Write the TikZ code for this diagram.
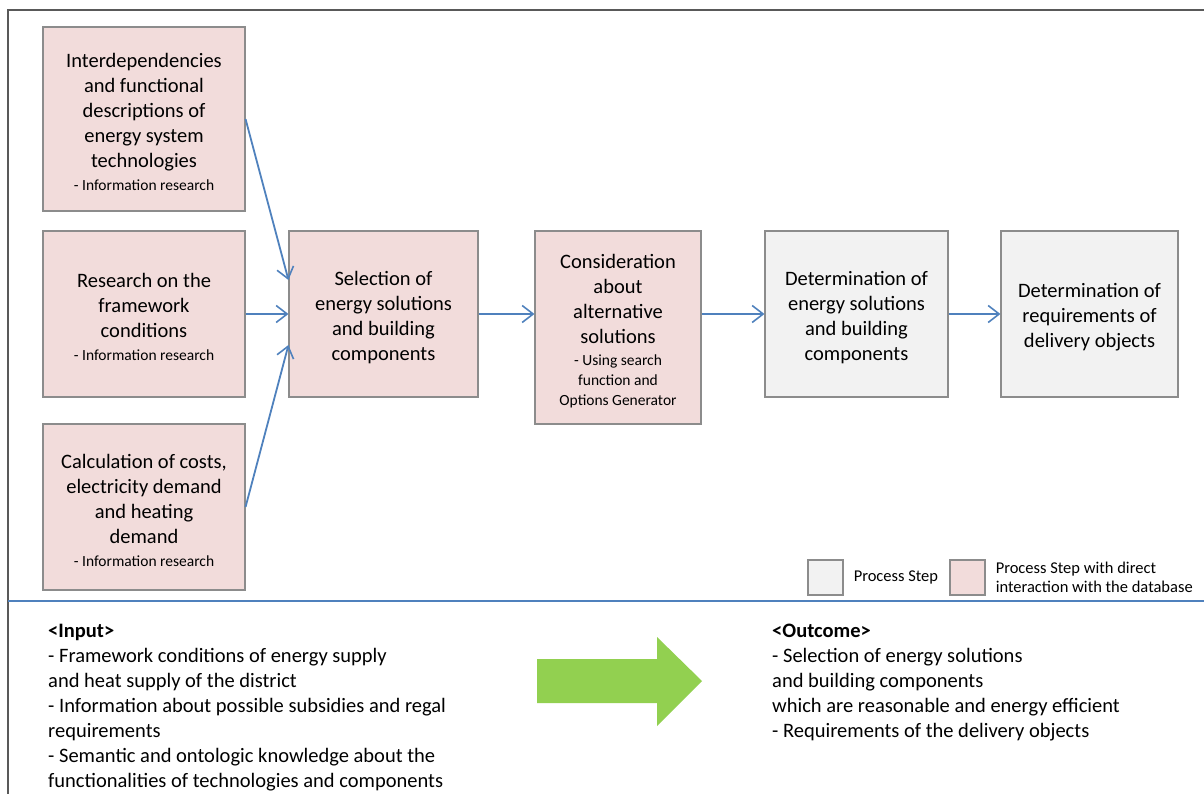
\documentclass[tikz,border=0pt]{standalone}
\usepackage{fontspec}
\setmainfont{Carlito}
\usetikzlibrary{arrows.meta,positioning}
\definecolor{dbpink}{HTML}{F2DCDB}
\definecolor{stepgray}{HTML}{F2F2F2}
\definecolor{boxline}{HTML}{8C8C8C}
\definecolor{flowblue}{HTML}{4F81BD}
\definecolor{framegray}{HTML}{595959}
\definecolor{outgreen}{HTML}{92D050}
\newcommand{\boxfont}{\fontsize{20.5}{25}\selectfont}
\newcommand{\notefont}{\fontsize{15.5}{19}\selectfont}
\newcommand{\legfont}{\fontsize{16.5}{19}\selectfont}
\newcommand{\subnote}[1]{{\notefont #1}}
\newcommand{\topgap}{\rule{0pt}{20.5pt}}
\tikzset{
  dbstep/.style={draw=boxline, line width=1.1pt, fill=dbpink, align=center,
    font=\boxfont, inner sep=0pt},
  plainstep/.style={dbstep, fill=stepgray},
  flow/.style={draw=flowblue, line width=1.8pt,
    -{Straight Barb[length=11pt,width=17pt,line width=1.6pt]}},
  legendtext/.style={font=\legfont, align=left, inner sep=0pt, anchor=west},
  listtext/.style={font=\boxfont, align=left, inner sep=0pt, anchor=north west}
}
\begin{document}
\begin{tikzpicture}[x=1pt,y=1pt]
\useasboundingbox (0,0) rectangle (1204,-794);
% Draw the frame and the separating line
\draw[framegray, line width=1.4pt] (8,-794) -- (8,-10) -- (1204,-10);
\draw[flowblue, line width=1.4pt] (8,-601) -- (1204,-601);
% Draw the input steps
\node[dbstep, minimum width=202pt, minimum height=184pt] (infoA) at (144,-119)
  {\topgap Interdependencies\\ and functional\\ descriptions of\\ energy system\\ technologies\\[-2pt]
   \subnote{- Information research}};
\node[dbstep, minimum width=202pt, minimum height=166pt] (infoB) at (144,-314)
  {\topgap Research on the\\ framework\\ conditions\\[-2pt] \subnote{- Information research}};
\node[dbstep, minimum width=202pt, minimum height=166pt] (infoC) at (144,-507)
  {\topgap Calculation of costs,\\ electricity demand\\ and heating\\ demand\\[-2pt]
   \subnote{- Information research}};
% Draw the main chain
\node[dbstep, minimum width=189pt, minimum height=166pt] (selB) at (383.5,-314)
  {\topgap Selection of\\ energy solutions\\ and building\\ components};
\node[dbstep, minimum width=166pt, minimum height=193pt] (consC) at (618,-327.5)
  {\topgap Consideration\\ about\\ alternative\\ solutions\\[-3pt] \subnote{- Using search}\\[-5pt]
   \subnote{function and}\\[-5pt] \subnote{Options Generator}};
\node[plainstep, minimum width=183pt, minimum height=166pt] (detD) at (856.5,-314)
  {\topgap Determination of\\ energy solutions\\ and building\\ components};
\node[plainstep, minimum width=177pt, minimum height=166pt] (detE) at (1089.5,-314)
  {\topgap Determination of\\ requirements of\\ delivery objects};
% Draw the arrows
\draw[flow] (infoA.east) -- ([yshift=34pt]selB.west);
\draw[flow] (infoB.east) -- (selB.west);
\draw[flow] (infoC.east) -- ([yshift=-31pt]selB.west);
\draw[flow] (selB.east) -- (selB.east -| consC.west);
\draw[flow] (detD.west -| consC.east) -- (detD.west);
\draw[flow] (detD.east) -- (detE.west);
% Draw the legend
\node[plainstep, minimum size=35pt] (legstep) at (825.5,-577.5) {};
\node[legendtext, right=10pt of legstep] (legsteptxt) {Process Step};
\node[dbstep, minimum size=35pt] (legdb) at (967.5,-577.5) {};
\node[legendtext, right=10pt of legdb] (legdbtxt)
  {Process Step with direct\\ interaction with the database};
% Draw the input and outcome lists
\fill[outgreen] (537,-659) -- (657,-659) -- (657,-637) -- (702,-681)
  -- (657,-726) -- (657,-703) -- (537,-703) -- cycle;
\node[listtext] (inputs) at (48,-624)
  {\textbf{<Input>}\\
   - Framework conditions of energy supply\\
   and heat supply of the district\\
   - Information about possible subsidies and regal\\
   requirements\\
   - Semantic and ontologic knowledge about the\\
   functionalities of technologies and components};
\node[listtext] (outcome) at (772,-624)
  {\textbf{<Outcome>}\\
   - Selection of energy solutions\\
   and building components\\
   which are reasonable and energy efficient\\
   - Requirements of the delivery objects};
\end{tikzpicture}
\end{document}
